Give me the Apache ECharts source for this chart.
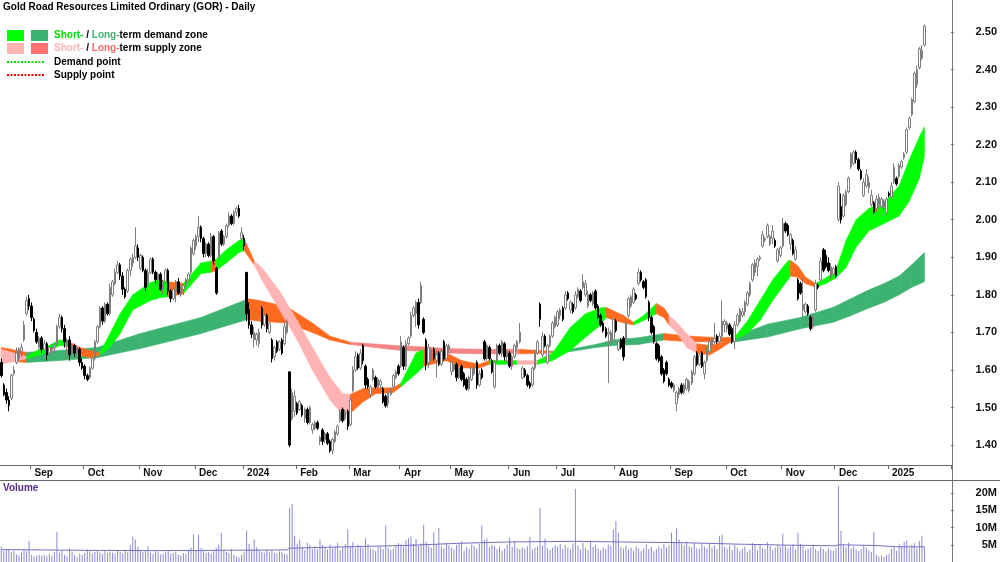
<!DOCTYPE html>
<html>
<head>
<meta charset="utf-8">
<script src="https://cdn.jsdelivr.net/npm/echarts@6/dist/echarts.min.js"></script>
<style>
  html, body { margin: 0; padding: 0; background: #fff; }
  #chart { width: 1000px; height: 562px; }
</style>
</head>
<body>
<div id="chart"></div>
<script>
// trading days per month, Aug 2023 (partial) .. Jan 2025 (partial)
const monthNames = ['Aug', 'Sep', 'Oct', 'Nov', 'Dec', '2024', 'Feb', 'Mar', 'Apr', 'May', 'Jun', 'Jul', 'Aug', 'Sep', 'Oct', 'Nov', 'Dec', '2025']
const monthDays = [12, 21, 22, 22, 19, 21, 21, 20, 20, 23, 19, 23, 22, 22, 22, 21, 21, 15]

// daily prices, one line per month
const open = [
  1.62, 1.56, 1.54, 1.52, 1.525, 1.59, 1.62, 1.63, 1.65, 1.68, 1.75, 1.79,
  1.77, 1.735, 1.70, 1.66, 1.685, 1.655, 1.67, 1.645, 1.655, 1.66, 1.67, 1.715, 1.74, 1.71, 1.665, 1.68, 1.64, 1.665, 1.645, 1.655, 1.62,
  1.61, 1.585, 1.58, 1.605, 1.63, 1.675, 1.715, 1.765, 1.73, 1.775, 1.75, 1.80, 1.83, 1.86, 1.88, 1.85, 1.815, 1.81, 1.865, 1.885, 1.90, 1.925,
  1.87, 1.90, 1.865, 1.83, 1.86, 1.895, 1.86, 1.84, 1.855, 1.815, 1.835, 1.865, 1.81, 1.79, 1.81, 1.835, 1.80, 1.815, 1.825, 1.84, 1.86, 1.91,
  1.93, 1.955, 1.98, 1.95, 1.91, 1.935, 1.905, 1.955, 1.87, 1.90, 1.97, 1.935, 1.955, 1.985, 2.01, 1.99, 2.02, 2.03, 1.95,
  1.95, 1.86, 1.76, 1.72, 1.68, 1.68, 1.67, 1.765, 1.72, 1.745, 1.70, 1.68, 1.635, 1.675, 1.655, 1.68, 1.67, 1.70, 1.595, 1.47, 1.49,
  1.51, 1.495, 1.505, 1.47, 1.495, 1.46, 1.44, 1.445, 1.46, 1.41, 1.44, 1.415, 1.43, 1.41, 1.385, 1.41, 1.43, 1.465, 1.495, 1.47, 1.49,
  1.455, 1.545, 1.60, 1.64, 1.605, 1.665, 1.61, 1.575, 1.535, 1.575, 1.58, 1.555, 1.56, 1.55, 1.53, 1.51, 1.535, 1.555, 1.58, 1.61,
  1.61, 1.66, 1.61, 1.67, 1.69, 1.745, 1.75, 1.78, 1.78, 1.735, 1.68, 1.62, 1.625, 1.655, 1.625, 1.645, 1.615, 1.675, 1.63, 1.655,
  1.595, 1.60, 1.615, 1.58, 1.61, 1.59, 1.575, 1.55, 1.575, 1.59, 1.62, 1.56, 1.60, 1.675, 1.63, 1.66, 1.625, 1.555, 1.625, 1.665, 1.645, 1.67, 1.635,
  1.645, 1.61, 1.635, 1.66, 1.675, 1.58, 1.60, 1.585, 1.565, 1.56, 1.605, 1.645, 1.775, 1.64, 1.69, 1.62, 1.665, 1.69, 1.715,
  1.72, 1.745, 1.765, 1.765, 1.805, 1.76, 1.775, 1.765, 1.795, 1.81, 1.82, 1.80, 1.77, 1.80, 1.775, 1.81, 1.77, 1.745, 1.725, 1.71, 1.695, 1.675, 1.68,
  1.73, 1.655, 1.68, 1.685, 1.68, 1.745, 1.77, 1.78, 1.80, 1.83, 1.86, 1.835, 1.84, 1.78, 1.74, 1.715, 1.67, 1.665, 1.635, 1.60, 1.62, 1.575,
  1.565, 1.545, 1.51, 1.535, 1.56, 1.54, 1.55, 1.545, 1.565, 1.59, 1.645, 1.615, 1.645, 1.59, 1.625, 1.65, 1.665, 1.675, 1.69, 1.675, 1.69, 1.72,
  1.71, 1.72, 1.71, 1.675, 1.72, 1.73, 1.745, 1.755, 1.775, 1.80, 1.84, 1.86, 1.875, 1.895, 1.93, 1.945, 1.955, 1.935, 1.95, 1.945, 1.89, 1.905,
  1.93, 1.99, 1.985, 1.935, 1.945, 1.895, 1.84, 1.83, 1.76, 1.755, 1.77, 1.74, 1.715, 1.76, 1.825, 1.84, 1.92, 1.905, 1.885, 1.845, 1.855,
  1.875, 2.00, 2.035, 2.01, 2.04, 2.075, 2.14, 2.15, 2.18, 2.16, 2.13, 2.065, 2.09, 2.085, 2.04, 2.045, 2.03, 2.04, 2.035, 2.03, 2.02,
  2.07, 2.06, 2.10, 2.11, 2.115, 2.14, 2.165, 2.18, 2.245, 2.28, 2.315, 2.36, 2.405, 2.43, 2.465
]
const high = [
  1.63, 1.565, 1.55, 1.53, 1.59, 1.61, 1.66, 1.66, 1.67, 1.73, 1.795, 1.80,
  1.78, 1.74, 1.71, 1.69, 1.69, 1.68, 1.675, 1.665, 1.67, 1.675, 1.72, 1.75, 1.745, 1.72, 1.685, 1.69, 1.67, 1.67, 1.665, 1.66, 1.63,
  1.615, 1.59, 1.61, 1.635, 1.68, 1.72, 1.77, 1.77, 1.78, 1.78, 1.83, 1.84, 1.87, 1.89, 1.885, 1.86, 1.82, 1.87, 1.90, 1.91, 1.98, 1.935,
  1.91, 1.905, 1.87, 1.87, 1.90, 1.90, 1.865, 1.86, 1.86, 1.84, 1.87, 1.87, 1.815, 1.82, 1.84, 1.845, 1.825, 1.83, 1.845, 1.86, 1.93, 1.95,
  1.96, 2.01, 1.985, 1.955, 1.94, 1.94, 1.965, 1.96, 1.875, 1.97, 1.975, 1.96, 1.99, 2.02, 2.015, 2.025, 2.035, 2.04, 1.98,
  1.96, 1.86, 1.78, 1.73, 1.715, 1.70, 1.71, 1.77, 1.75, 1.75, 1.73, 1.685, 1.665, 1.68, 1.68, 1.685, 1.725, 1.735, 1.595, 1.55, 1.545,
  1.515, 1.52, 1.51, 1.50, 1.50, 1.505, 1.46, 1.465, 1.465, 1.425, 1.445, 1.435, 1.435, 1.415, 1.42, 1.44, 1.455, 1.495, 1.50, 1.495, 1.495,
  1.53, 1.61, 1.65, 1.645, 1.655, 1.67, 1.615, 1.58, 1.56, 1.605, 1.585, 1.58, 1.575, 1.555, 1.535, 1.545, 1.555, 1.59, 1.60, 1.615,
  1.69, 1.665, 1.68, 1.69, 1.755, 1.77, 1.785, 1.79, 1.835, 1.74, 1.685, 1.67, 1.66, 1.66, 1.645, 1.65, 1.655, 1.68, 1.67, 1.67,
  1.625, 1.62, 1.62, 1.61, 1.615, 1.595, 1.58, 1.585, 1.61, 1.615, 1.625, 1.60, 1.605, 1.68, 1.67, 1.665, 1.63, 1.625, 1.67, 1.67, 1.68, 1.675, 1.655,
  1.65, 1.64, 1.67, 1.68, 1.725, 1.61, 1.605, 1.59, 1.57, 1.61, 1.655, 1.68, 1.78, 1.70, 1.695, 1.67, 1.695, 1.73, 1.745,
  1.76, 1.765, 1.77, 1.81, 1.81, 1.785, 1.78, 1.81, 1.82, 1.815, 1.855, 1.84, 1.81, 1.805, 1.81, 1.815, 1.775, 1.75, 1.73, 1.715, 1.713, 1.705, 1.74,
  1.735, 1.68, 1.685, 1.69, 1.73, 1.795, 1.80, 1.82, 1.805, 1.87, 1.865, 1.84, 1.845, 1.785, 1.745, 1.72, 1.675, 1.67, 1.64, 1.605, 1.625, 1.58,
  1.57, 1.565, 1.545, 1.555, 1.565, 1.565, 1.58, 1.575, 1.60, 1.64, 1.65, 1.645, 1.65, 1.625, 1.66, 1.68, 1.685, 1.725, 1.695, 1.70, 1.785, 1.735,
  1.73, 1.725, 1.715, 1.73, 1.75, 1.765, 1.765, 1.785, 1.81, 1.835, 1.885, 1.895, 1.90, 1.905, 1.97, 1.955, 1.99, 1.96, 1.985, 1.95, 1.925, 1.93,
  2.005, 1.995, 1.99, 1.965, 1.95, 1.93, 1.845, 1.835, 1.845, 1.78, 1.775, 1.745, 1.75, 1.84, 1.83, 1.90, 1.925, 1.92, 1.90, 1.885, 1.875,
  1.88, 2.10, 2.07, 2.07, 2.08, 2.115, 2.18, 2.185, 2.185, 2.165, 2.135, 2.11, 2.135, 2.115, 2.08, 2.05, 2.065, 2.07, 2.06, 2.055, 2.06,
  2.075, 2.10, 2.15, 2.115, 2.15, 2.16, 2.18, 2.245, 2.275, 2.325, 2.395, 2.41, 2.46, 2.465, 2.52
]
const low = [
  1.58, 1.53, 1.51, 1.49, 1.52, 1.585, 1.615, 1.625, 1.635, 1.675, 1.745, 1.76,
  1.73, 1.70, 1.67, 1.655, 1.645, 1.65, 1.625, 1.64, 1.645, 1.65, 1.665, 1.71, 1.70, 1.66, 1.645, 1.625, 1.63, 1.635, 1.64, 1.61, 1.60,
  1.575, 1.57, 1.575, 1.60, 1.625, 1.67, 1.71, 1.72, 1.725, 1.745, 1.745, 1.795, 1.825, 1.855, 1.84, 1.80, 1.79, 1.805, 1.85, 1.875, 1.895, 1.89,
  1.865, 1.86, 1.81, 1.825, 1.855, 1.855, 1.83, 1.825, 1.81, 1.80, 1.83, 1.80, 1.78, 1.785, 1.78, 1.80, 1.795, 1.80, 1.82, 1.835, 1.855, 1.905,
  1.92, 1.94, 1.94, 1.90, 1.90, 1.90, 1.90, 1.88, 1.80, 1.895, 1.93, 1.93, 1.95, 1.98, 1.985, 1.985, 2.01, 2.005, 1.94,
  1.92, 1.73, 1.71, 1.685, 1.66, 1.665, 1.66, 1.71, 1.715, 1.70, 1.695, 1.62, 1.625, 1.645, 1.65, 1.64, 1.665, 1.695, 1.395, 1.465, 1.475,
  1.48, 1.49, 1.475, 1.46, 1.455, 1.455, 1.43, 1.44, 1.44, 1.40, 1.40, 1.405, 1.40, 1.38, 1.375, 1.405, 1.425, 1.46, 1.46, 1.465, 1.44,
  1.45, 1.54, 1.595, 1.60, 1.60, 1.615, 1.55, 1.55, 1.525, 1.57, 1.55, 1.55, 1.55, 1.51, 1.50, 1.50, 1.53, 1.55, 1.575, 1.585,
  1.605, 1.60, 1.60, 1.665, 1.685, 1.74, 1.715, 1.71, 1.775, 1.695, 1.60, 1.605, 1.62, 1.625, 1.58, 1.61, 1.61, 1.625, 1.625, 1.645,
  1.585, 1.595, 1.57, 1.575, 1.57, 1.555, 1.545, 1.545, 1.57, 1.585, 1.55, 1.555, 1.575, 1.625, 1.625, 1.625, 1.59, 1.55, 1.62, 1.64, 1.635, 1.625, 1.62,
  1.605, 1.60, 1.63, 1.65, 1.67, 1.575, 1.58, 1.555, 1.55, 1.555, 1.60, 1.64, 1.715, 1.635, 1.66, 1.615, 1.66, 1.685, 1.71,
  1.715, 1.735, 1.73, 1.76, 1.785, 1.75, 1.75, 1.76, 1.79, 1.78, 1.815, 1.795, 1.765, 1.78, 1.77, 1.76, 1.735, 1.715, 1.70, 1.685, 1.565, 1.67, 1.675,
  1.70, 1.65, 1.655, 1.625, 1.675, 1.74, 1.765, 1.775, 1.785, 1.825, 1.835, 1.815, 1.79, 1.73, 1.695, 1.67, 1.625, 1.62, 1.585, 1.565, 1.585, 1.555,
  1.55, 1.54, 1.49, 1.525, 1.535, 1.535, 1.545, 1.54, 1.56, 1.585, 1.61, 1.61, 1.605, 1.575, 1.62, 1.645, 1.66, 1.67, 1.67, 1.67, 1.685, 1.70,
  1.70, 1.69, 1.67, 1.655, 1.715, 1.725, 1.74, 1.745, 1.77, 1.795, 1.835, 1.85, 1.85, 1.89, 1.925, 1.94, 1.95, 1.93, 1.935, 1.925, 1.885, 1.90,
  1.925, 1.965, 1.955, 1.92, 1.905, 1.89, 1.785, 1.80, 1.74, 1.75, 1.745, 1.705, 1.71, 1.755, 1.815, 1.835, 1.86, 1.87, 1.86, 1.84, 1.85,
  1.845, 1.995, 1.99, 2.005, 2.035, 2.07, 2.135, 2.145, 2.15, 2.13, 2.105, 2.06, 2.085, 2.07, 2.035, 2.015, 2.02, 2.03, 2.03, 2.025, 2.015,
  2.06, 2.055, 2.095, 2.09, 2.11, 2.135, 2.16, 2.175, 2.24, 2.275, 2.31, 2.35, 2.40, 2.425, 2.46
]
const close = [
  1.585, 1.535, 1.52, 1.505, 1.585, 1.60, 1.645, 1.655, 1.66, 1.72, 1.785, 1.77,
  1.74, 1.705, 1.675, 1.685, 1.655, 1.67, 1.64, 1.66, 1.66, 1.665, 1.715, 1.74, 1.71, 1.675, 1.68, 1.64, 1.665, 1.645, 1.66, 1.62, 1.605,
  1.585, 1.575, 1.605, 1.63, 1.675, 1.715, 1.765, 1.73, 1.775, 1.75, 1.82, 1.835, 1.86, 1.88, 1.85, 1.815, 1.795, 1.865, 1.895, 1.90, 1.93, 1.90,
  1.905, 1.865, 1.82, 1.86, 1.895, 1.86, 1.84, 1.855, 1.815, 1.835, 1.865, 1.81, 1.79, 1.815, 1.835, 1.805, 1.82, 1.825, 1.84, 1.855, 1.925, 1.945,
  1.955, 1.98, 1.95, 1.91, 1.935, 1.905, 1.955, 1.89, 1.805, 1.965, 1.935, 1.955, 1.985, 2.01, 1.99, 2.02, 2.03, 2.01, 1.965,
  1.93, 1.75, 1.72, 1.695, 1.70, 1.695, 1.70, 1.72, 1.745, 1.71, 1.725, 1.63, 1.66, 1.65, 1.675, 1.645, 1.715, 1.73, 1.40, 1.54, 1.53,
  1.485, 1.515, 1.48, 1.495, 1.46, 1.50, 1.455, 1.46, 1.445, 1.42, 1.41, 1.43, 1.405, 1.385, 1.415, 1.435, 1.45, 1.49, 1.465, 1.49, 1.45,
  1.52, 1.60, 1.635, 1.605, 1.645, 1.625, 1.56, 1.555, 1.555, 1.60, 1.555, 1.575, 1.57, 1.515, 1.505, 1.54, 1.55, 1.585, 1.595, 1.59,
  1.675, 1.61, 1.67, 1.685, 1.745, 1.765, 1.78, 1.72, 1.825, 1.70, 1.615, 1.66, 1.655, 1.63, 1.64, 1.615, 1.65, 1.63, 1.665, 1.665,
  1.62, 1.615, 1.58, 1.605, 1.575, 1.56, 1.55, 1.58, 1.605, 1.61, 1.56, 1.59, 1.58, 1.63, 1.665, 1.63, 1.595, 1.62, 1.665, 1.645, 1.675, 1.635, 1.65,
  1.61, 1.635, 1.665, 1.675, 1.70, 1.605, 1.585, 1.56, 1.555, 1.605, 1.645, 1.675, 1.735, 1.69, 1.665, 1.665, 1.69, 1.725, 1.74,
  1.755, 1.76, 1.735, 1.80, 1.79, 1.78, 1.755, 1.80, 1.815, 1.785, 1.835, 1.83, 1.80, 1.785, 1.805, 1.765, 1.74, 1.72, 1.705, 1.69, 1.70, 1.70, 1.735,
  1.705, 1.675, 1.66, 1.635, 1.725, 1.79, 1.795, 1.815, 1.79, 1.86, 1.84, 1.82, 1.795, 1.74, 1.70, 1.675, 1.63, 1.625, 1.59, 1.57, 1.59, 1.56,
  1.555, 1.56, 1.54, 1.55, 1.54, 1.56, 1.575, 1.57, 1.595, 1.635, 1.615, 1.64, 1.61, 1.62, 1.655, 1.675, 1.68, 1.685, 1.675, 1.69, 1.73, 1.73,
  1.725, 1.695, 1.675, 1.72, 1.745, 1.76, 1.755, 1.78, 1.805, 1.83, 1.88, 1.885, 1.895, 1.90, 1.96, 1.95, 1.985, 1.955, 1.97, 1.93, 1.92, 1.925,
  1.99, 1.97, 1.96, 1.96, 1.91, 1.92, 1.79, 1.805, 1.775, 1.775, 1.75, 1.71, 1.745, 1.83, 1.82, 1.89, 1.865, 1.875, 1.865, 1.875, 1.87,
  1.85, 2.09, 2.00, 2.065, 2.075, 2.11, 2.175, 2.18, 2.16, 2.135, 2.11, 2.10, 2.12, 2.10, 2.065, 2.02, 2.055, 2.06, 2.055, 2.05, 2.055,
  2.065, 2.09, 2.14, 2.095, 2.145, 2.155, 2.175, 2.24, 2.27, 2.32, 2.39, 2.40, 2.455, 2.45, 2.515
]
// daily volume, millions of shares
const volume = [
  4.4, 3.2, 3.6, 3.5, 3.0, 3.3, 2.2, 1.9, 2.8, 3.6, 3.1, 6.2,
  2.0, 1.6, 1.8, 2.0, 1.9, 2.1, 1.7, 2.3, 1.8, 2.9, 8.8, 2.7, 3.3, 2.1, 1.7, 3.9, 3.0, 2.0, 1.5, 2.4, 2.0,
  2.6, 3.6, 3.3, 2.4, 2.9, 3.5, 2.8, 2.3, 3.2, 2.6, 3.0, 2.7, 2.4, 3.3, 2.9, 2.5, 3.4, 2.8, 5.0, 7.4, 6.5, 4.4,
  3.5, 2.9, 3.2, 4.5, 2.6, 2.3, 3.1, 2.8, 2.2, 2.5, 2.9, 3.3, 2.4, 2.7, 3.0, 2.2, 1.9, 2.6, 2.3, 3.4, 4.1, 8.0,
  3.3, 7.8, 4.0, 3.2, 2.6, 2.8, 2.4, 3.1, 4.2, 5.0, 8.5, 3.5, 2.9, 2.6, 3.8, 2.2, 1.6, 1.4, 2.0,
  3.0, 9.1, 5.2, 3.6, 6.5, 4.3, 3.4, 3.0, 2.7, 3.6, 2.9, 3.3, 2.6, 2.5, 3.1, 2.8, 2.4, 2.2, 15.6, 16.8, 7.6,
  5.3, 6.5, 4.4, 3.5, 5.6, 5.0, 3.8, 4.6, 3.7, 6.5, 4.9, 4.2, 3.6, 5.1, 4.0, 4.4, 5.6, 3.4, 4.3, 5.2, 9.4,
  4.6, 5.8, 3.9, 5.0, 4.3, 4.1, 6.9, 5.2, 4.0, 3.6, 3.2, 4.5, 4.4, 3.8, 10.6, 4.1, 3.5, 3.9, 4.7, 5.5,
  5.1, 4.5, 6.3, 6.9, 7.4, 5.2, 6.6, 4.7, 5.4, 10.8, 5.9, 4.8, 4.2, 8.6, 5.1, 9.9, 4.6, 4.0, 5.5, 4.8,
  4.1, 3.7, 4.9, 5.2, 6.0, 3.4, 4.4, 3.8, 5.1, 4.6, 3.9, 5.3, 10.6, 6.4, 6.8, 4.2, 5.0, 4.7, 3.8, 4.5, 3.3, 3.9, 5.1,
  7.0, 4.4, 6.1, 4.0, 3.7, 4.3, 3.9, 4.6, 7.2, 3.6, 4.1, 4.5, 15.6, 4.7, 6.8, 4.0, 3.5, 4.2, 5.0,
  4.5, 5.2, 3.8, 4.9, 4.2, 3.6, 5.4, 21.2, 4.8, 3.7, 5.6, 4.1, 3.5, 6.0, 4.4, 4.9, 3.9, 3.4, 4.2, 3.8, 5.0, 4.6, 9.4,
  11.8, 8.5, 4.3, 3.9, 4.8, 3.6, 4.1, 3.3, 4.5, 3.9, 3.2, 4.0, 5.1, 3.7, 4.4, 3.1, 3.8, 4.6, 4.0, 5.3, 4.2, 4.9,
  8.5, 5.8, 9.7, 6.5, 5.5, 4.8, 5.9, 4.6, 4.3, 5.6, 4.0, 3.7, 5.4, 4.5, 3.9, 5.2, 4.2, 4.8, 3.8, 7.6, 8.0, 4.4,
  3.9, 4.7, 3.5, 5.0, 4.1, 3.3, 3.8, 4.5, 3.0, 3.6, 5.5, 4.9, 3.4, 5.2, 4.0, 3.7, 5.8, 4.6, 3.5, 4.2, 5.0, 4.4,
  8.2, 4.8, 3.9, 4.5, 5.1, 3.6, 8.5, 5.3, 4.6, 3.4, 3.9, 4.2, 5.0, 3.7, 3.2, 4.4, 3.8, 3.1, 4.0, 3.5, 3.3,
  4.0, 22.0, 9.0, 5.1, 4.3, 5.6, 3.9, 4.5, 3.6, 3.2, 3.8, 4.7, 4.1, 3.5, 2.9, 8.8, 2.1, 1.6, 1.8, 1.5, 2.0,
  2.4, 3.8, 4.2, 3.3, 5.1, 4.6, 5.8, 6.2, 4.0, 4.9, 5.5, 3.9, 6.1, 7.6, 4.4
]
// volume average line, read at a few bar positions
const volAvgAt = [0, 30, 60, 90, 113, 114, 130, 160, 180, 200, 227, 245, 270, 290, 310, 330, 331, 345, 355, 365]
const volAvg = [3.6, 3.4, 3.3, 3.4, 3.5, 4.0, 4.3, 4.8, 5.4, 5.8, 6.0, 5.8, 5.6, 5.2, 4.9, 4.7, 5.0, 4.8, 4.4, 4.4]

// long-term zone edges at bar positions, with the zone state from each point on
const ltAt = [0, 10, 23, 38, 55, 79, 96, 97, 102, 113, 123, 130, 138, 156, 166, 176, 189, 205, 212, 218, 225, 235, 242, 252, 262, 272, 284, 289, 303, 316, 329, 336, 342, 349, 355, 360, 365]
const ltTop = [1.66, 1.647, 1.652, 1.66, 1.697, 1.74, 1.785, 1.79, 1.785, 1.768, 1.725, 1.69, 1.674, 1.665, 1.662, 1.657, 1.655, 1.655, 1.652, 1.65, 1.655, 1.668, 1.68, 1.686, 1.697, 1.69, 1.686, 1.687, 1.722, 1.74, 1.767, 1.79, 1.81, 1.83, 1.85, 1.88, 1.913]
const ltBot = [1.625, 1.62, 1.625, 1.633, 1.657, 1.697, 1.732, 1.735, 1.73, 1.725, 1.70, 1.68, 1.668, 1.653, 1.65, 1.645, 1.643, 1.643, 1.644, 1.646, 1.649, 1.66, 1.665, 1.668, 1.68, 1.675, 1.675, 1.674, 1.688, 1.71, 1.727, 1.745, 1.762, 1.78, 1.80, 1.82, 1.835]
const ltState = ['o', 'G', 'G', 'G', 'G', 'G', 'G', 'o', 'o', 'o', 'o', 'o', 's', 's', 's', 's', 's', 'o', 'o', 'G', 'G', 'G', 'G', 'G', 'o', 'o', 'o', 'G', 'G', 'G', 'G', 'G', 'G', 'G', 'G', 'G', 'G']

// short-term zone
const stAt = [0, 10, 15, 19, 23, 26, 31, 35, 39, 43, 47, 52, 59, 63, 66, 72, 79, 83, 85, 89, 94, 96, 100, 103, 110, 117, 123, 130, 135, 138, 143, 148, 155, 158, 164, 167, 176, 182, 189, 193, 204, 212, 218, 225, 231, 237, 239, 246, 250, 254, 259, 262, 264, 267, 271, 275, 280, 284, 289, 295, 300, 305, 311, 312, 315, 318, 322, 326, 330, 334, 338, 343, 349, 355, 359, 363, 365]
const stTop = [1.655, 1.635, 1.655, 1.665, 1.68, 1.678, 1.66, 1.652, 1.645, 1.697, 1.75, 1.80, 1.833, 1.84, 1.835, 1.83, 1.885, 1.89, 1.895, 1.92, 1.945, 1.95, 1.89, 1.873, 1.81, 1.732, 1.66, 1.58, 1.537, 1.535, 1.55, 1.553, 1.552, 1.565, 1.645, 1.655, 1.645, 1.625, 1.615, 1.625, 1.625, 1.625, 1.645, 1.713, 1.75, 1.765, 1.767, 1.745, 1.727, 1.745, 1.777, 1.765, 1.745, 1.727, 1.697, 1.67, 1.665, 1.672, 1.68, 1.73, 1.785, 1.84, 1.89, 1.892, 1.877, 1.847, 1.83, 1.845, 1.865, 1.945, 2.00, 2.03, 2.045, 2.09, 2.16, 2.22, 2.247]
const stBot = [1.615, 1.63, 1.64, 1.65, 1.665, 1.663, 1.64, 1.632, 1.64, 1.66, 1.697, 1.76, 1.785, 1.793, 1.795, 1.803, 1.857, 1.86, 1.865, 1.885, 1.913, 1.918, 1.88, 1.84, 1.76, 1.68, 1.60, 1.52, 1.48, 1.485, 1.515, 1.537, 1.54, 1.555, 1.59, 1.61, 1.625, 1.605, 1.605, 1.615, 1.615, 1.615, 1.625, 1.652, 1.687, 1.72, 1.74, 1.725, 1.72, 1.732, 1.75, 1.74, 1.72, 1.70, 1.66, 1.645, 1.64, 1.655, 1.678, 1.697, 1.732, 1.785, 1.84, 1.85, 1.847, 1.83, 1.82, 1.83, 1.845, 1.873, 1.927, 1.97, 1.99, 2.01, 2.05, 2.11, 2.17]
const stState = ['p', 'g', 'g', 'g', 'g', 'o', 'o', 'o', 'g', 'g', 'g', 'g', 'g', 'g', 'o', 'g', 'g', 'o', 'g', 'g', 'g', 'o', 'p', 'p', 'p', 'p', 'p', 'p', 'p', 'o', 'o', 'o', 'o', 'g', 'g', 'o', 'o', 'o', 'o', 'g', 'p', 'g', 'g', 'g', 'g', 'g', 'o', 'o', 'g', 'g', 'o', 'o', 'p', 'p', 'p', 'o', 'o', 'o', 'g', 'g', 'g', 'g', 'g', 'o', 'o', 'o', 'g', 'g', 'g', 'g', 'g', 'g', 'g', 'g', 'g', 'g', 'g']

const zoneColors = {
  g: '#00ff00', // short-term demand
  G: '#3cb371', // long-term demand
  p: '#ffb3b3', // short-term supply
  s: '#f48484', // long-term supply
  o: '#ff6a1f'
}

// category axis: one slot per trading day, plus empty room on the right
const categories = []
const monthStart = {}
monthDays.forEach((n, m) => {
  if (m > 0) monthStart[categories.length] = monthNames[m]
  for (let d = 1; d <= n; d++) categories.push(monthNames[m] + '-' + m + '-' + d)
})
for (let k = 0; k < 10; k++) categories.push('pad' + k)

const candles = open.map((o, i) => [o, close[i], low[i], high[i]])

function zoneSeries (at, top, bot, state, z) {
  return {
    type: 'custom',
    xAxisIndex: 0,
    yAxisIndex: 0,
    z: z,
    silent: true,
    clip: true,
    data: at.map((x, k) => [x, top[k], bot[k]]),
    encode: { x: 0, y: [1, 2] },
    renderItem (params, api) {
      const k = params.dataIndex
      if (k >= at.length - 1) return null
      const c = zoneColors[state[k]]
      return {
        type: 'polygon',
        shape: {
          points: [
            api.coord([at[k], top[k]]),
            api.coord([at[k + 1], top[k + 1]]),
            api.coord([at[k + 1], bot[k + 1]]),
            api.coord([at[k], bot[k]])
          ]
        },
        style: { fill: c, stroke: c, lineWidth: 0.6 }
      }
    }
  }
}

const FONT = 'Liberation Sans, Arial, sans-serif'
const isMonthStart = (i) => monthStart[i] !== undefined

const chart = echarts.init(document.getElementById('chart'))
chart.setOption({
  animation: false,
  backgroundColor: '#ffffff',
  grid: [
    { left: 0, right: 48, top: 0, height: 465 },
    { left: 0, right: 48, top: 481, height: 81 }
  ],
  xAxis: [{
    type: 'category',
    gridIndex: 0,
    data: categories,
    boundaryGap: true,
    axisLine: { lineStyle: { color: '#666', width: 1 } },
    axisTick: { show: true, interval: isMonthStart, length: 4, lineStyle: { color: '#666' } },
    axisLabel: {
      interval: isMonthStart,
      formatter: (v, i) => monthStart[i] || '',
      align: 'left',
      padding: [0, 0, 0, 3],
      margin: 3,
      fontFamily: FONT,
      fontWeight: 'bold',
      fontSize: 10,
      color: '#111'
    },
    splitLine: { show: false }
  }, {
    type: 'category',
    gridIndex: 1,
    data: categories,
    boundaryGap: true,
    axisLine: { show: false },
    axisTick: { show: false },
    axisLabel: { show: false },
    splitLine: { show: false }
  }],
  yAxis: [{
    type: 'value',
    gridIndex: 0,
    position: 'right',
    min: 1.347,
    max: 2.585,
    splitNumber: 12,
    axisLine: { show: false },
    axisTick: { show: true, length: 3, lineStyle: { color: '#777' } },
    axisLabel: {
      showMinLabel: false,
      showMaxLabel: false,
      formatter: (v) => v.toFixed(2),
      margin: 46,
      align: 'right',
      fontFamily: FONT,
      fontWeight: 'bold',
      fontSize: 11,
      color: '#111'
    },
    splitLine: { show: false }
  }, {
    type: 'value',
    gridIndex: 1,
    position: 'right',
    min: 0,
    max: 23.5,
    interval: 5,
    axisLine: { show: false },
    axisTick: { show: true, length: 3, lineStyle: { color: '#777' } },
    axisLabel: {
      showMaxLabel: false,
      formatter: (v) => (v === 0 ? '' : v + 'M'),
      margin: 46,
      align: 'right',
      fontFamily: FONT,
      fontWeight: 'bold',
      fontSize: 11,
      color: '#111'
    },
    splitLine: { show: false }
  }],
  series: [
    zoneSeries(ltAt, ltTop, ltBot, ltState, 1),
    zoneSeries(stAt, stTop, stBot, stState, 2),
    {
      type: 'candlestick',
      xAxisIndex: 0,
      yAxisIndex: 0,
      z: 5,
      barWidth: 2,
      data: candles,
      itemStyle: {
        color: '#ffffff',
        color0: '#000000',
        borderColor: '#7f7f7f',
        borderColor0: '#000000',
        borderWidth: 1
      }
    },
    {
      type: 'bar',
      xAxisIndex: 1,
      yAxisIndex: 1,
      barWidth: 1,
      data: volume,
      itemStyle: { color: '#8a8ad6' }
    },
    {
      type: 'line',
      xAxisIndex: 1,
      yAxisIndex: 1,
      z: 4,
      symbol: 'none',
      data: volAvgAt.map((x, k) => [x, volAvg[k]]),
      lineStyle: { color: '#7070c4', width: 1 }
    }
  ],
  graphic: [
    { type: 'line', silent: true, shape: { x1: 952.5, y1: 0, x2: 952.5, y2: 562 }, style: { stroke: '#777', lineWidth: 1 } },
    { type: 'line', silent: true, shape: { x1: 0, y1: 480.5, x2: 1000, y2: 480.5 }, style: { stroke: '#666', lineWidth: 1 } },
    { type: 'text', left: 3, top: 2, style: { text: 'Gold Road Resources Limited Ordinary (GOR) - Daily', font: 'bold 10px ' + FONT, fill: '#000' } },
    { type: 'rect', shape: { x: 7, y: 30, width: 17, height: 11 }, style: { fill: zoneColors.g } },
    { type: 'rect', shape: { x: 31, y: 30, width: 17, height: 11 }, style: { fill: zoneColors.G } },
    { type: 'rect', shape: { x: 7, y: 43, width: 17, height: 11 }, style: { fill: zoneColors.p } },
    { type: 'rect', shape: { x: 31, y: 43, width: 17, height: 11 }, style: { fill: '#ff7070' } },
    { type: 'line', shape: { x1: 7, y1: 62, x2: 44, y2: 62 }, style: { stroke: '#00e000', lineWidth: 2, lineDash: [2, 1.5] } },
    { type: 'line', shape: { x1: 7, y1: 75, x2: 44, y2: 75 }, style: { stroke: '#ff0000', lineWidth: 2, lineDash: [2, 1.5] } },
    {
      type: 'text', left: 54, top: 30,
      style: {
        text: '{a|Short-}{b| / }{c|Long-}{b|term demand zone}',
        font: 'bold 10px ' + FONT,
        rich: {
          a: { fill: '#00dd00', font: 'bold 10px ' + FONT },
          b: { fill: '#000', font: 'bold 10px ' + FONT },
          c: { fill: '#3cb371', font: 'bold 10px ' + FONT }
        }
      }
    },
    {
      type: 'text', left: 54, top: 43,
      style: {
        text: '{a|Short-}{b| / }{c|Long-}{b|term supply zone}',
        font: 'bold 10px ' + FONT,
        rich: {
          a: { fill: '#ffb3b3', font: 'bold 10px ' + FONT },
          b: { fill: '#000', font: 'bold 10px ' + FONT },
          c: { fill: '#ff6b6b', font: 'bold 10px ' + FONT }
        }
      }
    },
    { type: 'text', left: 54, top: 57, style: { text: 'Demand point', font: 'bold 10px ' + FONT, fill: '#000' } },
    { type: 'text', left: 54, top: 70, style: { text: 'Supply point', font: 'bold 10px ' + FONT, fill: '#000' } },
    { type: 'text', left: 3, top: 483, style: { text: 'Volume', font: 'bold 10px ' + FONT, fill: '#5a2a8a' } }
  ]
})
</script>
</body>
</html>
